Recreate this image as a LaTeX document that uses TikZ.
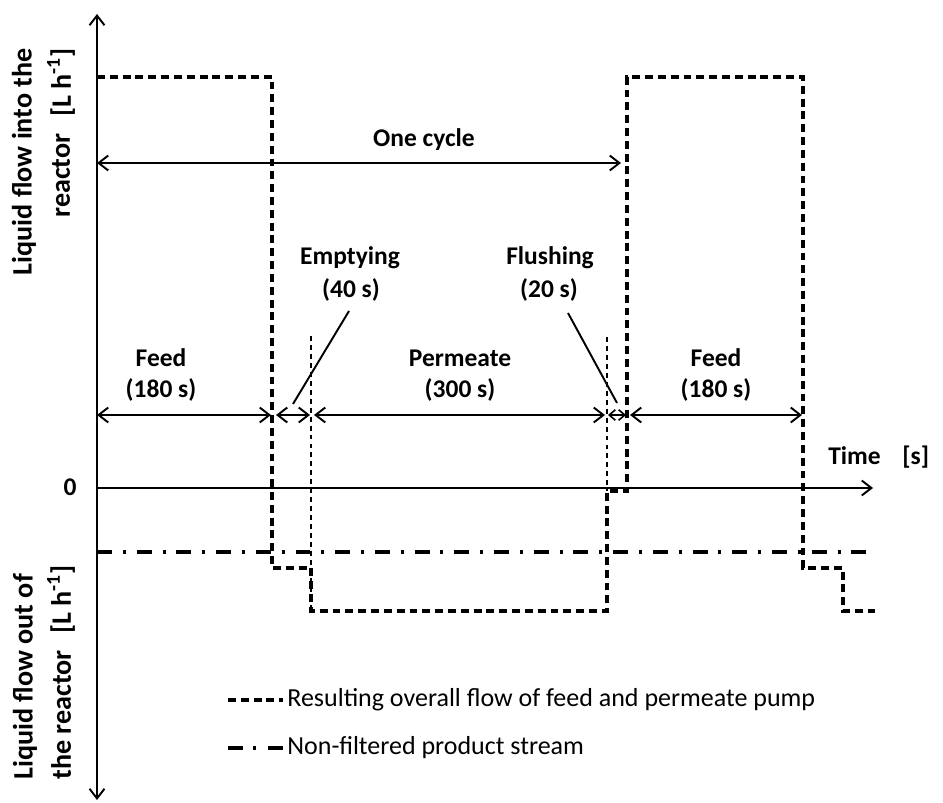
\documentclass[tikz,border=0pt]{standalone}
\usepackage{fontspec}
\setmainfont{Carlito}
\usetikzlibrary{arrows.meta}
\begin{document}
\begin{tikzpicture}[x=0.02cm, y=-0.02cm,
  tip/.tip={Straight Barb[length=5.5pt,width=8.5pt,line width=1.1pt]},
  axisline/.style={line width=1.3pt},
  span/.style={line width=1.1pt, {tip}-{tip}},
  flow/.style={line width=1.9pt, dash pattern=on 4.5pt off 2.8pt},
  guide/.style={line width=0.9pt, dash pattern=on 2.8pt off 2.3pt},
  product/.style={line width=1.9pt, dash pattern=on 8.5pt off 6.2pt on 1.7pt off 6.2pt},
  leader/.style={line width=1.1pt},
  lbl/.style={font=\fontsize{14.5}{17}\selectfont\bfseries, inner sep=0pt, anchor=base},
  legendtext/.style={font=\fontsize{14.8}{17}\selectfont, inner sep=0pt, anchor=base west},
  axlbl/.style={font=\fontsize{16}{19}\selectfont\bfseries, inner sep=0pt, rotate=90}]

  \useasboundingbox (0,0) rectangle (943,803);

  % axes
  \coordinate (ytop) at (97,14);
  \coordinate (ybot) at (97,800);
  \coordinate (origin) at (97,488);
  \coordinate (xend) at (873,488);
  \draw[axisline, {tip}-{tip}] (ybot) -- (ytop);
  \draw[axisline, -{tip}] (origin) -- (xend);
  \node[lbl] (zero) at (70,496) {0};
  \node[lbl, anchor=base west] (timelbl) at (828,465) {Time};
  \node[lbl, anchor=base west] (timeunit) at (902,465) {[s]};

  % axis titles
  \node[axlbl, anchor=east] (inA) at (24,48) {Liquid flow into the};
  \node[axlbl, anchor=west] (inB) at (61,218) {reactor};
  \node[axlbl, anchor=east] (inU) at (61,48) {[L h\textsuperscript{-1}]};
  \node[axlbl, anchor=west] (outA) at (25,780) {Liquid flow out of};
  \node[axlbl, anchor=west] (outB) at (61,780) {the reactor};
  \node[axlbl, anchor=east] (outU) at (61,565) {[L h\textsuperscript{-1}]};

  % phase boundaries (thin guides)
  \coordinate (g1t) at (311,336);
  \coordinate (g1b) at (311,611);
  \coordinate (g2t) at (607,337);
  \coordinate (g2b) at (607,491);
  \draw[guide] (g1t) -- (g1b);
  \draw[guide] (g2t) -- (g2b);

  % non-filtered product stream
  \coordinate (pA) at (97,552);
  \coordinate (pB) at (873,552);
  \draw[product] (pA) -- (pB);

  % resulting overall flow
  \draw[flow] (97,77) -- (272,77) -- (272,568) -- (311,568) -- (311,611)
    -- (607,611) -- (607,491) -- (627,491) -- (627,77) -- (803,77)
    -- (803,568) -- (843,568) -- (843,611) -- (875,611);

  % one cycle
  \coordinate (c1) at (97,163);
  \coordinate (c2) at (621,163);
  \draw[span] (c1) -- (c2);
  \node[lbl] (cycle) at (424,147) {One cycle};

  % phase durations
  \coordinate (f1a) at (97,415);  \coordinate (f1b) at (271,415);
  \coordinate (e1a) at (276,415); \coordinate (e1b) at (310,415);
  \coordinate (p1a) at (314,415); \coordinate (p1b) at (605,415);
  \coordinate (s1a) at (608,415); \coordinate (s1b) at (626,415);
  \coordinate (f2a) at (630,415); \coordinate (f2b) at (802,415);
  \draw[span] (f1a) -- (f1b);
  \draw[span] (e1a) -- (e1b);
  \draw[span] (p1a) -- (p1b);
  \draw[line width=0.9pt, {Straight Barb[length=3.5pt,width=6pt]}-{Straight Barb[length=3.5pt,width=6pt]}] (s1a) -- (s1b);
  \draw[span] (f2a) -- (f2b);

  \node[lbl] (feedA) at (161,367) {Feed};
  \node[lbl] (feedAt) at (161,398) {(180 s)};
  \node[lbl] (empty) at (350,265) {Emptying};
  \node[lbl] (emptyt) at (351,298) {(40 s)};
  \node[lbl] (perm) at (460,367) {Permeate};
  \node[lbl] (permt) at (460,398) {(300 s)};
  \node[lbl] (flush) at (550,265) {Flushing};
  \node[lbl] (flusht) at (549,298) {(20 s)};
  \node[lbl] (feedB) at (716,367) {Feed};
  \node[lbl] (feedBt) at (716,398) {(180 s)};

  % leader lines
  \coordinate (eL1) at (349,311); \coordinate (eL2) at (293,404);
  \coordinate (sL1) at (568,313); \coordinate (sL2) at (617,403);
  \draw[leader] (eL1) -- (eL2);
  \draw[leader] (sL1) -- (sL2);

  % legend
  \coordinate (l1a) at (228,700); \coordinate (l1b) at (283,700);
  \coordinate (l2a) at (228,748); \coordinate (l2b) at (283,748);
  \draw[flow] (l1a) -- (l1b);
  \draw[product, dash pattern=on 8.5pt off 5.7pt on 1.7pt off 6.8pt] (l2a) -- (l2b);
  \node[legendtext] (leg1) at (287,706) {Resulting overall flow of feed and permeate pump};
  \node[legendtext] (leg2) at (287,754) {Non-filtered product stream};
\end{tikzpicture}
\end{document}
